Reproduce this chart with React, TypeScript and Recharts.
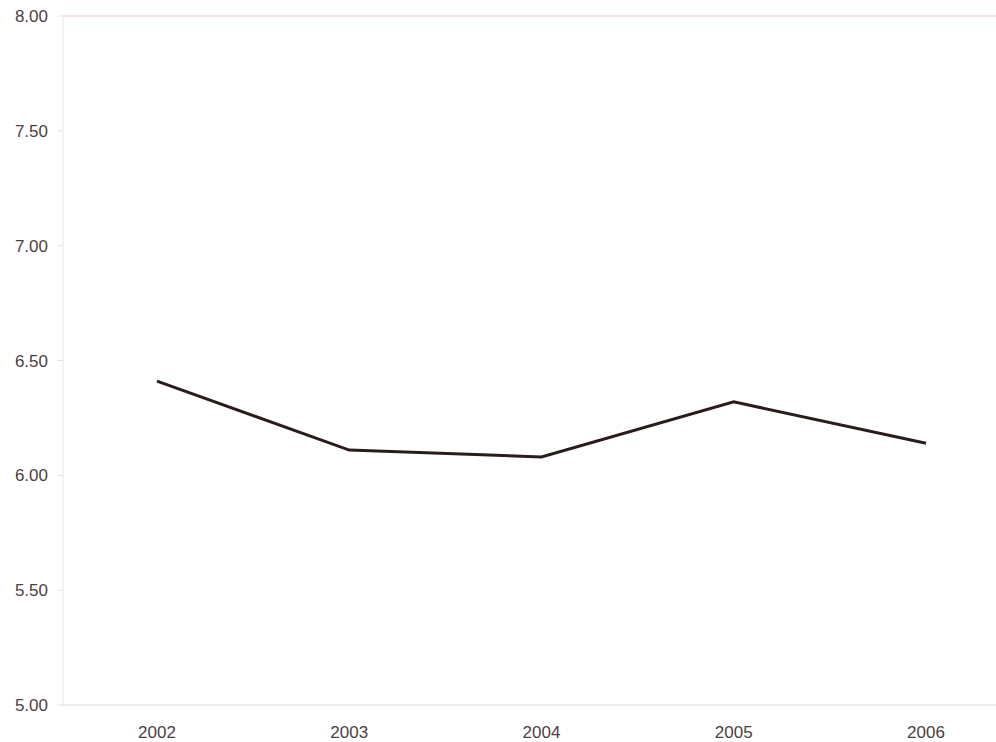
import React from "react";
import { LineChart, Line, XAxis, YAxis, ReferenceLine } from "recharts";

const years = ["2002", "2003", "2004", "2005", "2006"];
const values = [6.41, 6.11, 6.08, 6.32, 6.14];
const yTicks = [5.0, 5.5, 6.0, 6.5, 7.0, 7.5, 8.0];

const data = years.map((y, i) => ({ year: y, value: values[i] }));

const tickStyle = { fill: "#4e4040", fontSize: 17, fontFamily: "Liberation Sans, Arial, sans-serif" };

export default function App() {
  return (
    <div style={{ position: "absolute", left: 0, top: 0, width: 996, height: 742, background: "#fff" }}>
      <LineChart
        width={996}
        height={742}
        data={data}
        margin={{ top: 16, right: 0, bottom: 0, left: 0 }}
      >
        <XAxis
          dataKey="year"
          height={37}
          padding={{ left: 94, right: 70 }}
          tickLine={false}
          tickSize={0}
          tickMargin={21}
          axisLine={{ stroke: "#dcdcdc" }}
          tick={tickStyle}
        />
        <YAxis
          width={63}
          domain={[5, 8]}
          ticks={yTicks}
          interval={0}
          tickFormatter={(v: number) => v.toFixed(2)}
          tickSize={5}
          tickMargin={10}
          tickLine={{ stroke: "#e2e2e2" }}
          axisLine={{ stroke: "#e8e8e8" }}
          tick={tickStyle}
        />
        <ReferenceLine y={8} stroke="#f2e4e6" strokeWidth={2} />
        <Line
          type="linear"
          dataKey="value"
          stroke="#2b1b1b"
          strokeWidth={3}
          dot={false}
          isAnimationActive={false}
        />
      </LineChart>
    </div>
  );
}
